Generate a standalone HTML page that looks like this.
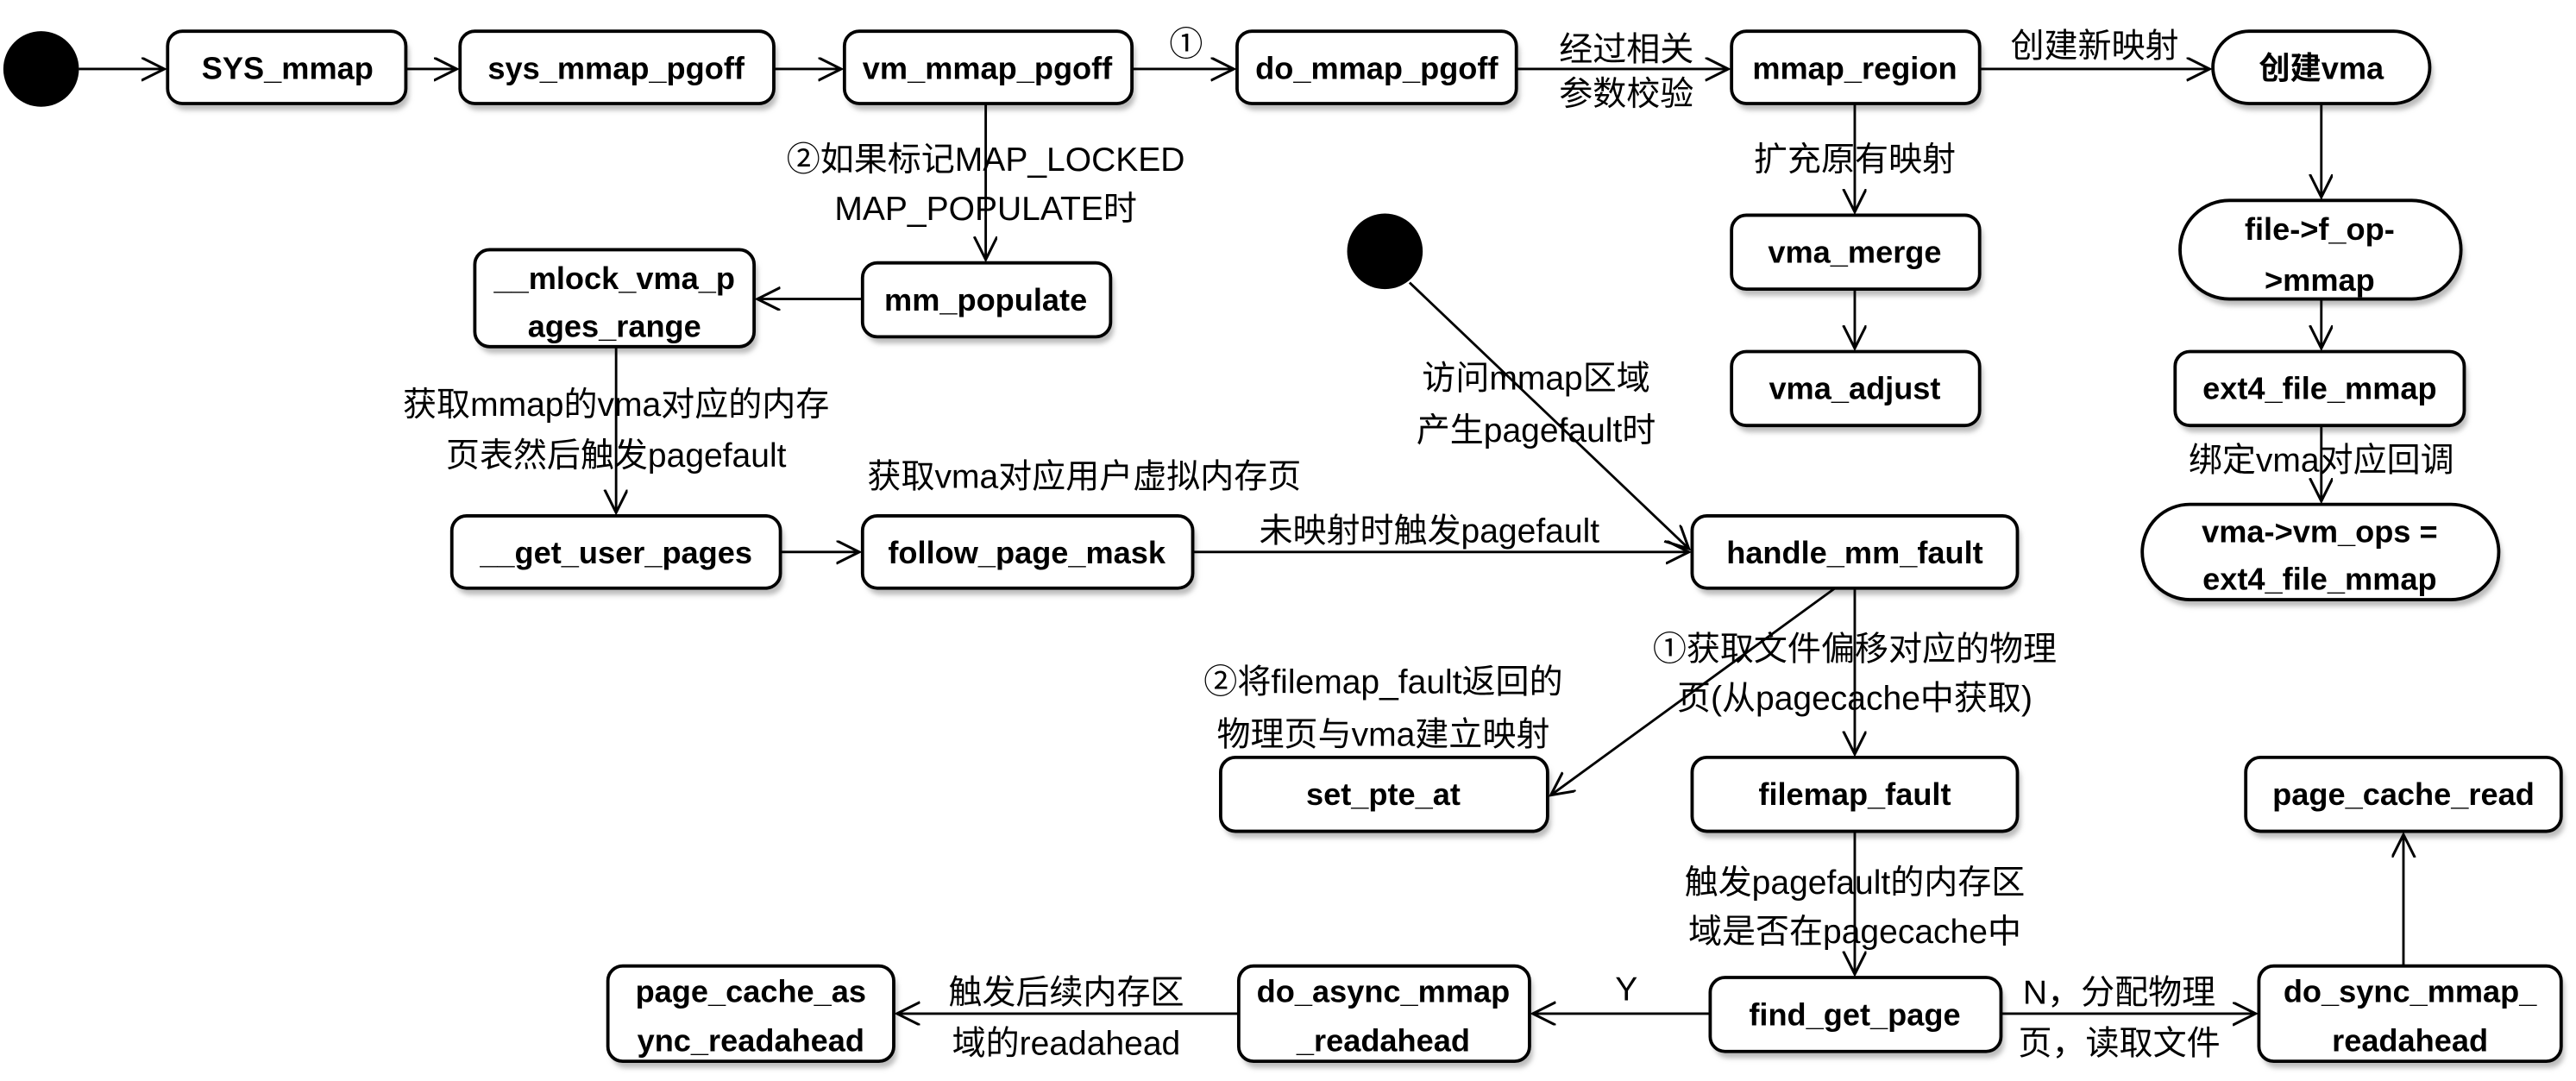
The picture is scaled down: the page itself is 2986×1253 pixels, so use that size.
<!DOCTYPE html>
<html><head><meta charset="utf-8"><style>
html,body{margin:0;padding:0;background:#fff;}
svg{display:block;}
.b{font-family:"Liberation Sans","Noto Sans CJK SC",sans-serif;font-weight:bold;font-size:19px;fill:#000;text-anchor:middle;}
.l{font-family:"Liberation Sans","Noto Sans CJK SC",sans-serif;font-size:20.5px;fill:#000;text-anchor:middle;}
.n{fill:#fff;stroke:#000;stroke-width:2;}
.s{fill:#bbb;stroke:none;}
.e{stroke:#000;stroke-width:1.5;fill:none;}
</style></head><body>
<svg width="2986" height="1253" viewBox="0 0 1568 658" xmlns="http://www.w3.org/2000/svg">
<defs>
<marker id="a" markerUnits="userSpaceOnUse" markerWidth="20" markerHeight="20" refX="14" refY="7" orient="auto">
<polyline points="0,0 14,7 0,14" fill="none" stroke="#000" stroke-width="1.6"/>
</marker>
<filter id="sh" x="-10%" y="-10%" width="120%" height="140%"><feGaussianBlur stdDeviation="1.5"/></filter>
</defs>

<ellipse cx="25" cy="42" rx="23" ry="23" fill="#000"/>
<ellipse cx="843" cy="153" rx="23" ry="23" fill="#000"/>

<g filter="url(#sh)" class="s">
<rect x="104" y="23" width="145" height="44" rx="9"/>
<rect x="282" y="23" width="191" height="44" rx="9"/>
<rect x="516" y="23" width="175" height="44" rx="9"/>
<rect x="755" y="23" width="170" height="44" rx="9"/>
<rect x="1056" y="23" width="151" height="44" rx="9"/>
<rect x="1349" y="23" width="132" height="44" rx="22"/>
<rect x="527" y="164" width="151" height="45" rx="9"/>
<rect x="291" y="156" width="170" height="59" rx="9"/>
<rect x="1056" y="135" width="151" height="45" rx="9"/>
<rect x="1056" y="218" width="151" height="45" rx="9"/>
<rect x="1329" y="126" width="171" height="60" rx="30"/>
<rect x="1326" y="218" width="176" height="45" rx="9"/>
<rect x="1306" y="311" width="217" height="58" rx="29"/>
<rect x="277" y="318" width="200" height="44" rx="9"/>
<rect x="527" y="318" width="201" height="44" rx="9"/>
<rect x="1032" y="318" width="198" height="44" rx="9"/>
<rect x="745" y="465" width="199" height="45" rx="9"/>
<rect x="1032" y="465" width="198" height="45" rx="9"/>
<rect x="1369" y="465" width="192" height="45" rx="9"/>
<rect x="372" y="592" width="174" height="58" rx="9"/>
<rect x="756" y="592" width="177" height="58" rx="9"/>
<rect x="1043" y="599" width="177" height="45" rx="9"/>
<rect x="1377" y="592" width="184" height="58" rx="9"/>
</g>
<g class="n">
<rect x="102" y="19" width="145" height="44" rx="9"/>
<rect x="280" y="19" width="191" height="44" rx="9"/>
<rect x="514" y="19" width="175" height="44" rx="9"/>
<rect x="753" y="19" width="170" height="44" rx="9"/>
<rect x="1054" y="19" width="151" height="44" rx="9"/>
<rect x="1347" y="19" width="132" height="44" rx="22"/>
<rect x="525" y="160" width="151" height="45" rx="9"/>
<rect x="289" y="152" width="170" height="59" rx="9"/>
<rect x="1054" y="131" width="151" height="45" rx="9"/>
<rect x="1054" y="214" width="151" height="45" rx="9"/>
<rect x="1327" y="122" width="171" height="60" rx="30"/>
<rect x="1324" y="214" width="176" height="45" rx="9"/>
<rect x="1304" y="307" width="217" height="58" rx="29"/>
<rect x="275" y="314" width="200" height="44" rx="9"/>
<rect x="525" y="314" width="201" height="44" rx="9"/>
<rect x="1030" y="314" width="198" height="44" rx="9"/>
<rect x="743" y="461" width="199" height="45" rx="9"/>
<rect x="1030" y="461" width="198" height="45" rx="9"/>
<rect x="1367" y="461" width="192" height="45" rx="9"/>
<rect x="370" y="588" width="174" height="58" rx="9"/>
<rect x="754" y="588" width="177" height="58" rx="9"/>
<rect x="1041" y="595" width="177" height="45" rx="9"/>
<rect x="1375" y="588" width="184" height="58" rx="9"/>
</g>

<g class="b">
<text x="175" y="48">SYS_mmap</text>
<text x="375" y="48">sys_mmap_pgoff</text>
<text x="601" y="48">vm_mmap_pgoff</text>
<text x="838" y="48">do_mmap_pgoff</text>
<text x="1129" y="48">mmap_region</text>
<text x="1413" y="48">创建vma</text>
<text x="600" y="189">mm_populate</text>
<text x="374" y="176">__mlock_vma_p</text>
<text x="374" y="205">ages_range</text>
<text x="1129" y="160">vma_merge</text>
<text x="1129" y="243">vma_adjust</text>
<text x="1412" y="146">file-&gt;f_op-</text>
<text x="1412" y="177">&gt;mmap</text>
<text x="1412" y="243">ext4_file_mmap</text>
<text x="1412" y="330">vma-&gt;vm_ops =</text>
<text x="1412" y="359">ext4_file_mmap</text>
<text x="375" y="343">__get_user_pages</text>
<text x="625" y="343">follow_page_mask</text>
<text x="1129" y="343">handle_mm_fault</text>
<text x="842" y="490">set_pte_at</text>
<text x="1129" y="490">filemap_fault</text>
<text x="1463" y="490">page_cache_read</text>
<text x="457" y="610">page_cache_as</text>
<text x="457" y="640">ync_readahead</text>
<text x="842" y="610">do_async_mmap</text>
<text x="842" y="640">_readahead</text>
<text x="1129" y="624">find_get_page</text>
<text x="1467" y="610">do_sync_mmap_</text>
<text x="1467" y="640">readahead</text>
</g>

<g class="e" marker-end="url(#a)">
<line x1="48" y1="42" x2="100" y2="42"/>
<line x1="247" y1="42" x2="278" y2="42"/>
<line x1="471" y1="42" x2="512" y2="42"/>
<line x1="689" y1="42" x2="751" y2="42"/>
<line x1="923" y1="42" x2="1052" y2="42"/>
<line x1="1205" y1="42" x2="1345" y2="42"/>
<line x1="600" y1="63" x2="600" y2="158"/>
<line x1="525" y1="182" x2="461" y2="182"/>
<line x1="375" y1="211" x2="375" y2="312"/>
<line x1="475" y1="336" x2="523" y2="336"/>
<line x1="726" y1="336" x2="1028" y2="336"/>
<line x1="858" y1="172" x2="1028" y2="334"/>
<line x1="1129" y1="63" x2="1129" y2="129"/>
<line x1="1129" y1="176" x2="1129" y2="212"/>
<line x1="1413" y1="63" x2="1413" y2="120"/>
<line x1="1413" y1="182" x2="1413" y2="212"/>
<line x1="1413" y1="259" x2="1413" y2="305"/>
<line x1="1129" y1="358" x2="1129" y2="459"/>
<line x1="1117" y1="358" x2="944" y2="484"/>
<line x1="1129" y1="506" x2="1129" y2="593"/>
<line x1="1041" y1="617" x2="933" y2="617"/>
<line x1="754" y1="617" x2="546" y2="617"/>
<line x1="1218" y1="617" x2="1373" y2="617"/>
<line x1="1463" y1="588" x2="1463" y2="508"/>
</g>

<g class="l">
<text x="722" y="34">①</text>
<text x="990" y="37">经过相关</text>
<text x="990" y="64">参数校验</text>
<text x="1275" y="35">创建新映射</text>
<text x="600" y="104">②如果标记MAP_LOCKED</text>
<text x="600" y="134">MAP_POPULATE时</text>
<text x="375" y="253">获取mmap的vma对应的内存</text>
<text x="375" y="284">页表然后触发pagefault</text>
<text x="660" y="297">获取vma对应用户虚拟内存页</text>
<text x="870" y="330">未映射时触发pagefault</text>
<text x="935" y="237">访问mmap区域</text>
<text x="935" y="269">产生pagefault时</text>
<text x="1129" y="104">扩充原有映射</text>
<text x="1413" y="287">绑定vma对应回调</text>
<text x="1129" y="402">①获取文件偏移对应的物理</text>
<text x="1129" y="432">页(从pagecache中获取)</text>
<text x="842" y="422">②将filemap_fault返回的</text>
<text x="842" y="454">物理页与vma建立映射</text>
<text x="1129" y="544">触发pagefault的内存区</text>
<text x="1129" y="574">域是否在pagecache中</text>
<text x="990" y="609">Y</text>
<text x="649" y="611">触发后续内存区</text>
<text x="649" y="642">域的readahead</text>
<text x="1290" y="611">N，分配物理</text>
<text x="1290" y="642">页，读取文件</text>
</g>
</svg>
</body></html>
